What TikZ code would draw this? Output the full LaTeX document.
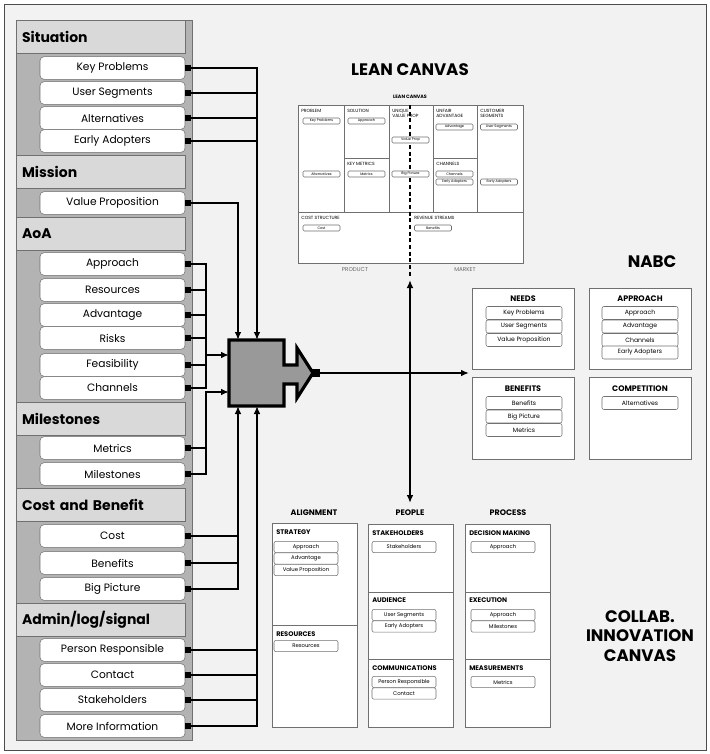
\documentclass[tikz,border=0pt]{standalone}
\usepackage{fontspec}
\setmainfont{Poppins}
\usetikzlibrary{arrows.meta}
\definecolor{bg}{HTML}{F2F2F2}
\definecolor{hdr}{HTML}{D9D9D9}
\definecolor{pan}{HTML}{B3B3B3}
\definecolor{bdr}{HTML}{707070}
\definecolor{blk}{HTML}{999999}
\tikzset{
 item/.style={draw=bdr,fill=white,rounded corners=3pt,minimum width=108.75pt,minimum height=17pt,inner sep=0pt,font=\fontsize{8}{9}\selectfont},
 hdr/.style={draw=bdr,fill=hdr,minimum width=126.75pt,minimum height=25pt,inner sep=0pt,anchor=west,font=\fontsize{10.5}{12}\bfseries\selectfont,text width=118pt,align=left},
 port/.style={fill=black,minimum size=4.5pt,inner sep=0pt},
 ln/.style={line width=1.4pt},
 arr/.style={ln,-{Latex[length=6pt,width=5pt]}},
 box/.style={draw=bdr,fill=white,line width=0.6pt},
 lb/.style={draw=bdr,fill=white,rounded corners=1pt,minimum width=27.75pt,minimum height=4.5pt,inner sep=0pt,font=\fontsize{2.6}{3}\selectfont},
 lh/.style={anchor=north west,inner sep=0pt,font=\fontsize{3.4}{4}\selectfont,align=left},
 nb/.style={draw=bdr,fill=white,rounded corners=1.5pt,minimum width=57pt,minimum height=9.75pt,inner sep=0pt,font=\fontsize{4.6}{5}\selectfont},
 nh/.style={inner sep=0pt,font=\fontsize{6}{7}\bfseries\selectfont},
 cb/.style={draw=bdr,fill=white,rounded corners=1.5pt,minimum width=48pt,minimum height=8.5pt,inner sep=0pt,font=\fontsize{4}{5}\selectfont},
 ch/.style={anchor=west,inner sep=0pt,font=\fontsize{5}{6}\bfseries\selectfont},
 ttl/.style={inner sep=0pt,font=\fontsize{12.5}{14.5}\bfseries\selectfont,align=center},
}
\begin{document}
\begin{tikzpicture}[x=0.75pt,y=-0.75pt]
\useasboundingbox (0,0) rectangle (710,754);
\fill[white] (0,0) rectangle (710,754);
\draw[fill=bg,draw=black!70] (4,4) rectangle (706,750);
% left panel
\fill[pan] (16,20) rectangle (192,740);
\draw[bdr] (16,20) rectangle (192,740);
\foreach \n/\y/\t in {sit/37/Situation,mis/172/Mission,aoa/234/AoA,mil/419/Milestones,cab/505/Cost and Benefit,adm/620/{Admin/log/signal}}
 \node[hdr] (\n) at (16,\y) {\t};
\foreach \n/\y/\t in {kp/68/Key Problems,us/93/User Segments,al/118/Alternatives,ea/141/Early Adopters,
 vp/203/Value Proposition,
 ap/264/Approach,rs/290/Resources,ad/315/Advantage,rk/338/Risks,fe/365/Feasibility,ch/388/Channels,
 me/448/Metrics,ms/474/Milestones,
 co/536/Cost,be/563/Benefits,bp/589/Big Picture,
 pr/650/Person Responsible,ct/675/Contact,sh/700/Stakeholders,mi/726/More Information}
 {\node[item] (\n) at (112.5,\y) {\t};
  \node[port] (p\n) at (188,\y) {};}
% central block
\coordinate (ta) at (238,340); \coordinate (tb) at (257,340);
\coordinate (ba) at (238,406); \coordinate (bb) at (257,406);
\coordinate (la) at (229,355); \coordinate (lb) at (229,392);
\draw[line width=2.4pt,fill=blk,line join=miter] (229,340)--(284,340)--(284,365)--(297,365)--(297,348)--(313,373)--(297,398)--(297,384)--(284,384)--(284,406)--(229,406)--cycle;
\node[port,minimum size=6pt] (out) at (316,373) {};
% connectors
\draw[arr] (pkp) -| (tb);
\foreach \p in {pus,pal,pea} \draw[ln] (\p) -- (\p -| tb);
\draw[arr] (pvp) -| (ta);
\draw[ln] (pap) -| (206,388) -- (pch);
\foreach \p in {prs,pad,prk,pfe} \draw[ln] (\p) -- (206,0 |- \p);
\draw[arr] (206,355) -- (la);
\draw[ln] (pme) -- (206,0 |- pme);
\draw[arr] (pms) -| (206,392) -- (lb);
\draw[arr] (pbp) -| (ba);
\foreach \p in {pco,pbe} \draw[ln] (\p) -- (\p -| ba);
\draw[arr] (pmi) -| (bb);
\foreach \p in {ppr,pct,psh} \draw[ln] (\p) -- (\p -| bb);
\coordinate (x) at (410,373);
\coordinate (nabcin) at (469,373);
\coordinate (lcin) at (410,280);
\coordinate (ppin) at (410,503);
\draw[arr] (out) -- (nabcin);
\draw[arr] (x) -- (lcin);
\draw[arr] (x) -- (ppin);
% LEAN CANVAS
\node[ttl] (lct) at (410,70) {LEAN CANVAS};
\node[inner sep=0pt,font=\fontsize{3.6}{4}\bfseries\selectfont] (lcs) at (410,97) {LEAN CANVAS};
\draw[box] (298,105) rectangle (523,263);
\draw[bdr,line width=0.6pt] (298,212)--(523,212) (344,105)--(344,212) (389,105)--(389,212) (433,105)--(433,212) (477,105)--(477,212) (344,158)--(389,158) (433,158)--(477,158);
\draw[line width=0.8pt,dash pattern=on 3pt off 2pt] (410,105)--(410,278);
\node[lh] (h1) at (301,109) {PROBLEM};
\node[lh] (h2) at (347,109) {SOLUTION};
\node[lh] (h3) at (392,109) {UNIQUE\\VALUE PROP};
\node[lh] (h4) at (436,109) {UNFAIR\\ADVANTAGE};
\node[lh] (h5) at (480,109) {CUSTOMER\\SEGMENTS};
\node[lh] (h6) at (347,162) {KEY METRICS};
\node[lh] (h7) at (436,162) {CHANNELS};
\node[lh] (h8) at (301,216) {COST STRUCTURE};
\node[lh] (h9) at (414,216) {REVENUE STREAMS};
\node[lb] (l1) at (321.5,121) {Key Problems};
\node[lb] (l2) at (366.5,121) {Approach};
\node[lb] (l3) at (410.5,140) {Value Prop};
\node[lb] (l4) at (454.5,127) {Advantage};
\node[lb] (l5) at (499,127) {User Segments};
\node[lb] (l6) at (321.5,174) {Alternatives};
\node[lb] (l7) at (366.5,174) {Metrics};
\node[lb] (l8) at (410.5,174) {Big Picture};
\node[lb] (l9) at (454.5,174) {Channels};
\node[lb] (l10) at (454.5,182) {Early Adopters};
\node[lb] (l11) at (499,182) {Early Adopters};
\node[lb] (l12) at (321.5,228) {Cost};
\node[lb] (l13) at (433,228) {Benefits};
\node[inner sep=0pt,font=\fontsize{4.2}{5}\selectfont,text=black!60] (pd) at (355,270) {PRODUCT};
\node[inner sep=0pt,font=\fontsize{4.2}{5}\selectfont,text=black!60] (mk) at (465,270) {MARKET};
% NABC
\node[ttl] (nt) at (652,262) {NABC};
\draw[box] (472,288) rectangle (574,369);
\draw[box] (589,288) rectangle (691,369);
\draw[box] (472,377) rectangle (574,459);
\draw[box] (589,377) rectangle (691,459);
\node[nh] (n1) at (523,299) {NEEDS};
\node[nh] (n2) at (640,299) {APPROACH};
\node[nh] (n3) at (523,389) {BENEFITS};
\node[nh] (n4) at (640,389) {COMPETITION};
\foreach \n/\x/\y/\t in {a1/524/313/Key Problems,a2/524/326.5/User Segments,a3/524/340/Value Proposition,
 b1/640/313/Approach,b2/640/326.5/Advantage,b3/640/340/Channels,b4/640/352.5/Early Adopters,
 c1/524/403/Benefits,c2/524/416.5/Big Picture,c3/524/430/Metrics,d1/640/403/Alternatives}
 \node[nb] (\n) at (\x,\y) {\t};
% COLLAB
\node[nh] (g1) at (314,513) {ALIGNMENT};
\node[nh] (g2) at (410,513) {PEOPLE};
\node[nh] (g3) at (508,513) {PROCESS};
\draw[box] (272,523) rectangle (357,727); \draw[bdr,line width=0.6pt] (272,625)--(357,625);
\draw[box] (368,524) rectangle (453,727); \draw[bdr,line width=0.6pt] (368,592)--(453,592) (368,659)--(453,659);
\draw[box] (465,524) rectangle (550,727); \draw[bdr,line width=0.6pt] (465,592)--(550,592) (465,659)--(550,659);
\node[ch] (s1) at (276,532) {STRATEGY};
\node[ch] (s2) at (276,634) {RESOURCES};
\node[ch] (s3) at (372,533) {STAKEHOLDERS};
\node[ch] (s4) at (372,600) {AUDIENCE};
\node[ch] (s5) at (372,668) {COMMUNICATIONS};
\node[ch] (s6) at (469,533) {DECISION MAKING};
\node[ch] (s7) at (469,600) {EXECUTION};
\node[ch] (s8) at (469,668) {MEASUREMENTS};
\foreach \n/\x/\y/\t in {e1/306/547/Approach,e2/306/558.5/Advantage,e3/306/570/Value Proposition,e4/306/646/Resources,
 f1/404/547/Stakeholders,f2/404/615/User Segments,f3/404/626.5/Early Adopters,f4/404/682/Person Responsible,f5/404/693.5/Contact,
 k1/503/547/Approach,k2/503/615/Approach,k3/503/626.5/Milestones,k4/503/682/Metrics}
 \node[cb] (\n) at (\x,\y) {\t};
\node[ttl] (cit) at (640,636) {COLLAB.\\INNOVATION\\CANVAS};
\end{tikzpicture}
\end{document}
